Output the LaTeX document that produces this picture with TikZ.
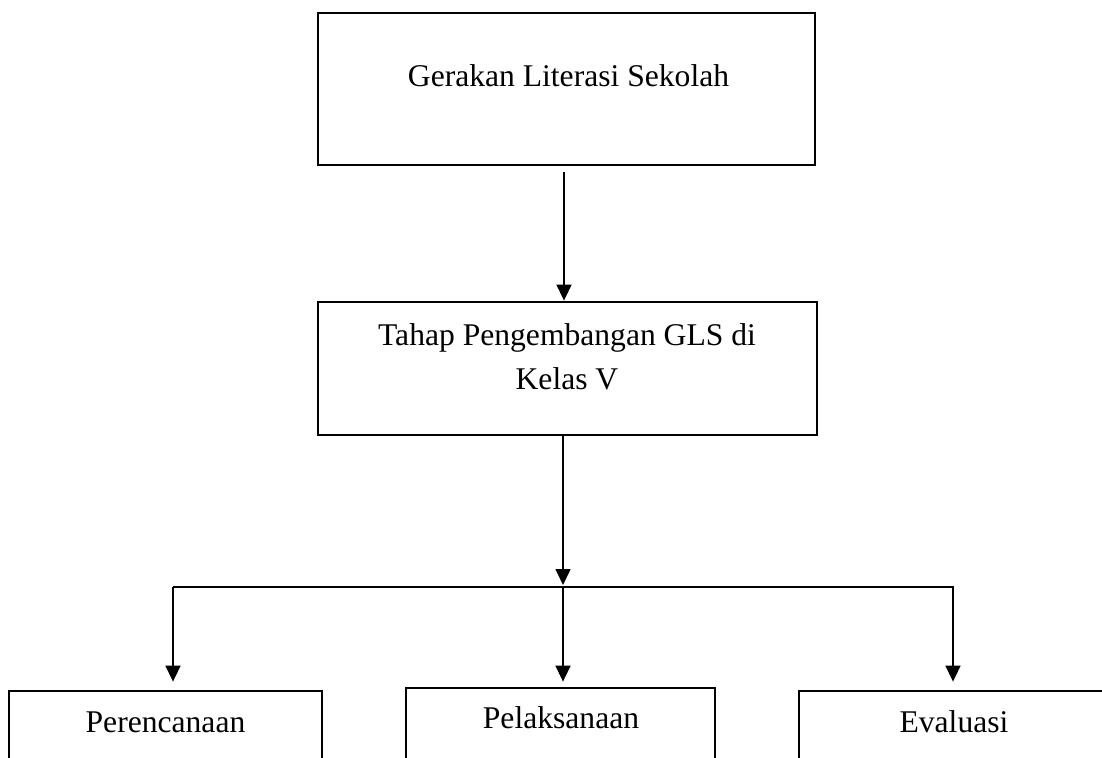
\documentclass[tikz,border=0pt]{standalone}
\usepackage{fontspec}
\setmainfont{Liberation Serif}
\usetikzlibrary{arrows.meta}
\begin{document}
\begin{tikzpicture}[x=0.5pt,y=-0.5pt,
  box/.style={draw,line width=1.4pt,inner sep=0pt},
  lbl/.style={inner sep=0pt,font=\fontsize{15.8}{22}\selectfont},
  arrowline/.style={line width=0.8pt,-{Triangle[width=7.5pt,length=8pt]}},
  busline/.style={line width=1pt}]
\useasboundingbox (0,0) rectangle (1102,758);
\clip (0,0) rectangle (1102,758);
% boxes
\node[box,minimum width=248.5pt,minimum height=76pt] (b1) at (566.5,89) {};
\node[box,minimum width=249.5pt,minimum height=66.5pt] (b2) at (567.5,368.5) {};
\node[box,minimum width=156.5pt,minimum height=54.5pt] (b3) at (165.5,745.5) {};
\node[box,minimum width=154.5pt,minimum height=56pt] (b4) at (560.5,744) {};
\node[box,minimum width=155.5pt,minimum height=54.5pt] (b5) at (954.5,745.5) {};
% texts
\node[lbl,anchor=base] (t1) at (568.5,87) {Gerakan Literasi Sekolah};
\node[lbl,anchor=north,align=center] (t2) at (567,323) {Tahap Pengembangan GLS di\\Kelas V};
\node[lbl,anchor=base] (t3) at (165.5,732) {Perencanaan};
\node[lbl,anchor=base] (t4) at (561,728) {Pelaksanaan};
\node[lbl,anchor=base] (t5) at (954,732) {Evaluasi};
% connectors
\coordinate (a1s) at (564,172);
\draw[arrowline] (a1s) -- (a1s |- b2.north);
\coordinate (j) at (563,587);
\coordinate (hl) at (173,587);
\coordinate (hr) at (954,587);
\coordinate (hr2) at (953,587);
\draw[arrowline,shorten >=1pt] (b2.south -| j) -- (j);
\draw[busline] (hl) -- (hr);
\draw[arrowline,shorten >=4pt] (hl) -- (hl |- b3.north);
\draw[arrowline,shorten >=2.5pt] (j) -- (j |- b4.north);
\draw[arrowline,shorten >=4pt] (hr2) -- (hr2 |- b5.north);
\end{tikzpicture}
\end{document}
